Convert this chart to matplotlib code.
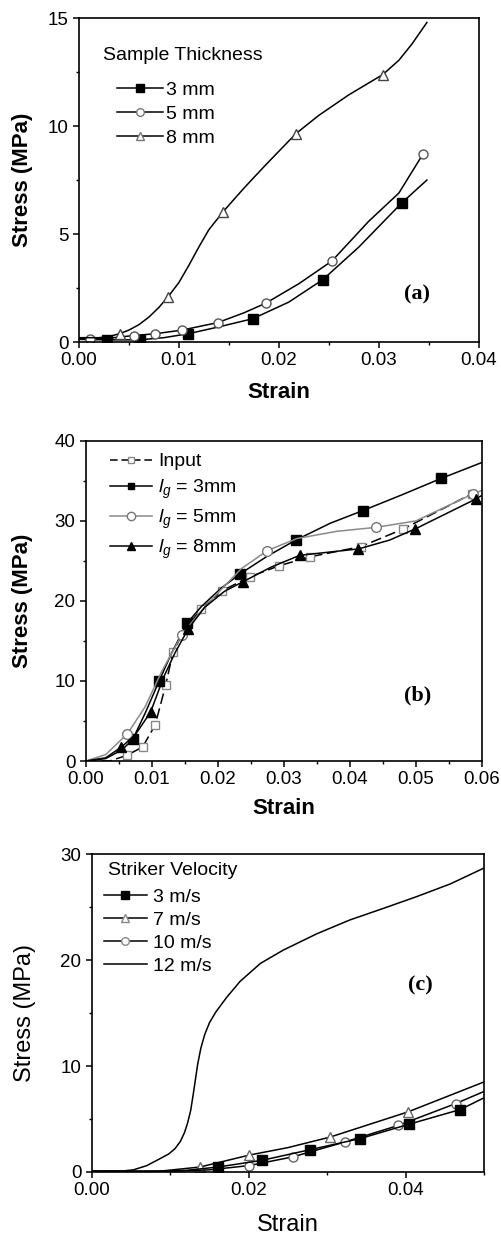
import matplotlib
matplotlib.use("Agg")
import matplotlib.pyplot as plt
from matplotlib.ticker import MultipleLocator
from matplotlib.lines import Line2D

plt.rcParams['font.family'] = ['Liberation Sans', 'DejaVu Sans']
plt.rcParams['mathtext.fontset'] = 'custom'
plt.rcParams['mathtext.rm'] = 'Liberation Sans'
plt.rcParams['mathtext.it'] = 'Liberation Sans:italic'

# ---- panel (a): sample thickness ----
a_x_3mm = [0, 0.0028, 0.0061, 0.0085, 0.0109, 0.014, 0.0174, 0.021, 0.0244, 0.028, 0.0323, 0.0348]
a_y_3mm = [0.12, 0.1, 0.1, 0.2, 0.38, 0.7, 1.08, 1.85, 2.89, 4.4, 6.45, 7.5]
a_mk_3mm = [1, 2, 4, 6, 8, 10]

a_x_5mm = [0, 0.0011, 0.0035, 0.0055, 0.0076, 0.0103, 0.0139, 0.0165, 0.0187, 0.022, 0.0253, 0.029, 0.032, 0.0344]
a_y_5mm = [0.15, 0.15, 0.2, 0.3, 0.38, 0.55, 0.9, 1.35, 1.8, 2.7, 3.75, 5.6, 6.9, 8.7]
a_mk_5mm = [1, 3, 4, 5, 6, 8, 10, 13]

a_x_8mm = [0, 0.002, 0.003, 0.0041, 0.005, 0.006, 0.007, 0.008, 0.0089, 0.01, 0.011, 0.012, 0.013,
           0.0144, 0.0155, 0.0165, 0.0175, 0.0188, 0.0202, 0.0217, 0.024, 0.027, 0.0304, 0.032,
           0.0333, 0.0348]
a_y_8mm = [0.2, 0.2, 0.25, 0.39, 0.55, 0.8, 1.15, 1.6, 2.08, 2.75, 3.55, 4.4, 5.2,
           6.02, 6.6, 7.12, 7.62, 8.26, 8.93, 9.65, 10.5, 11.45, 12.39, 13.05,
           13.8, 14.8]
a_mk_8mm = [3, 8, 13, 19, 22]
a_labels = ['3 mm', '5 mm', '8 mm']

# ---- panel (b): gauge length ----
b_x_in = [0, 0.0036, 0.0062, 0.0086, 0.0105, 0.0121, 0.0132, 0.015, 0.0175, 0.0207, 0.0248, 0.0293,
          0.0339, 0.0417, 0.0481, 0.0585, 0.06]
b_y_in = [0, 0, 0.7, 1.75, 4.5, 9.5, 13.6, 16.5, 19.0, 21.3, 23.0, 24.4, 25.5, 26.8, 29.0, 33.4, 33.8]
b_mk_in = [2, 3, 4, 5, 6, 8, 9, 10, 11, 12, 13, 14, 15]

b_x_3mm = [0, 0.003, 0.0055, 0.0071, 0.009, 0.0111, 0.013, 0.0153, 0.0175, 0.0205, 0.0234, 0.0275,
           0.0318, 0.037, 0.042, 0.048, 0.0538, 0.06]
b_y_3mm = [0, 0.3, 1.4, 2.7, 6.0, 10.0, 13.5, 17.2, 19.3, 21.6, 23.4, 25.6, 27.6, 29.7, 31.3, 33.3, 35.3, 37.3]
b_mk_3mm = [3, 5, 7, 10, 12, 14, 16]

b_x_5mm = [0, 0.003, 0.0063, 0.009, 0.0115, 0.0145, 0.017, 0.02, 0.0235, 0.0275, 0.032, 0.038,
           0.044, 0.05, 0.0587, 0.06]
b_y_5mm = [0, 0.8, 3.4, 6.8, 11.2, 15.7, 18.3, 21.0, 24.0, 26.3, 27.8, 28.7, 29.2, 30.0, 33.4, 33.8]
b_mk_5mm = [2, 5, 9, 12, 14]

b_x_8mm = [0, 0.003, 0.0054, 0.0075, 0.0098, 0.0118, 0.0135, 0.0155, 0.018, 0.021, 0.0238, 0.028,
           0.0324, 0.0413, 0.046, 0.0499, 0.0591, 0.06]
b_y_8mm = [0, 0.4, 1.75, 3.3, 6.1, 10.5, 13.5, 16.5, 19.2, 21.2, 22.4, 24.2, 25.7, 26.5, 27.6, 29.0,
           32.75, 33.2]
b_mk_8mm = [2, 4, 7, 10, 12, 13, 15, 16]
b_labels = ['Input', r'$\mathit{l}_g$ = 3mm', r'$\mathit{l}_g$ = 5mm', r'$\mathit{l}_g$ = 8mm']

# ---- panel (c): striker velocity ----
c_x_3 = [0, 0.008, 0.012, 0.0161, 0.0217, 0.0278, 0.0342, 0.0404, 0.047, 0.05]
c_y_3 = [0.05, 0.05, 0.15, 0.47, 1.1, 2.1, 3.15, 4.5, 5.9, 7.0]
c_mk_3 = [3, 4, 5, 6, 7, 8]

c_x_7 = [0, 0.009, 0.0138, 0.0201, 0.025, 0.0304, 0.0403, 0.05]
c_y_7 = [0.05, 0.1, 0.47, 1.6, 2.3, 3.3, 5.67, 8.5]
c_mk_7 = [2, 3, 5, 6]

c_x_10 = [0, 0.01, 0.015, 0.02, 0.0256, 0.0323, 0.0391, 0.0464, 0.05]
c_y_10 = [0.05, 0.05, 0.2, 0.6, 1.42, 2.84, 4.4, 6.46, 7.6]
c_mk_10 = [3, 4, 5, 6, 7]

c_x_12 = [0, 0.004, 0.0053, 0.007, 0.0087, 0.0098, 0.0106, 0.0113, 0.0118, 0.0122, 0.0126, 0.0129,
          0.0132, 0.0135, 0.0139, 0.0144, 0.015, 0.0158, 0.0172, 0.0189, 0.0215, 0.0244, 0.0287,
          0.0329, 0.0372, 0.0414, 0.0457, 0.05]
c_y_12 = [0.1, 0.1, 0.2, 0.6, 1.26, 1.7, 2.2, 2.9, 3.7, 4.6, 5.8, 7.2,
          8.7, 10.2, 11.7, 13.0, 14.1, 15.1, 16.5, 18.0, 19.7, 20.95, 22.5,
          23.8, 24.9, 26.0, 27.2, 28.7]
c_labels = ['3 m/s', '7 m/s', '10 m/s', '12 m/s']

fig = plt.figure(figsize=(5.02, 12.36), dpi=100)
ax1 = fig.add_axes([0.157, 0.7233, 0.797, 0.262])
ax2 = fig.add_axes([0.171, 0.3843, 0.789, 0.259])
ax3 = fig.add_axes([0.183, 0.0518, 0.781, 0.257])

lw = 1.1
ms = 6.5
fs_leg = 14

# (a)
ax1.plot(a_x_3mm, a_y_3mm, '-', color='black', lw=lw, marker='s', ms=ms, mfc='black',
         markevery=a_mk_3mm)
ax1.plot(a_x_5mm, a_y_5mm, '-', color='black', lw=lw, marker='o', ms=ms, mfc='white',
         mec='#555555', markevery=a_mk_5mm)
ax1.plot(a_x_8mm, a_y_8mm, '-', color='black', lw=lw, marker='^', ms=ms, mfc='white',
         mec='#444444', markevery=a_mk_8mm)
ax1.set_xlim(0, 0.04)
ax1.set_ylim(0, 15)
ax1.xaxis.set_major_locator(MultipleLocator(0.01))
ax1.xaxis.set_minor_locator(MultipleLocator(0.005))
ax1.yaxis.set_major_locator(MultipleLocator(5))
ax1.yaxis.set_minor_locator(MultipleLocator(2.5))
ax1.xaxis.set_major_formatter(plt.FormatStrFormatter('%.2f'))
ax1.set_xlabel('Strain', fontsize=16, fontweight='bold', va='center')
ax1.set_ylabel('Stress (MPa)', fontsize=16, fontweight='bold', va='center')
ax1.xaxis.set_label_coords(0.5, -0.157)
ax1.yaxis.set_label_coords(-0.14, 0.5)
ax1.text(0.06, 0.886, 'Sample Thickness', transform=ax1.transAxes, fontsize=fs_leg, va='center')
h_a = [Line2D([], [], color='black', lw=lw, marker='s', ms=5.5, mfc='black'),
       Line2D([], [], color='black', lw=lw, marker='o', ms=5.5, mfc='white', mec='#777777'),
       Line2D([], [], color='black', lw=lw, marker='^', ms=5.5, mfc='white', mec='#777777')]
ax1.legend(h_a, a_labels, loc='upper left', bbox_to_anchor=(0.095, 0.805), frameon=False,
           fontsize=fs_leg, handlelength=2.37, handletextpad=0.15, labelspacing=0.32, borderpad=0,
           borderaxespad=0)
ax1.text(0.845, 0.148, '(a)', transform=ax1.transAxes, fontsize=16, fontweight='bold',
         family='Liberation Serif', ha='center', va='center')

# (b)
ax2.plot(b_x_in, b_y_in, color='black', lw=lw, dashes=(7, 3), marker='s', ms=5.5, mfc='white',
         mec='#888888', markevery=b_mk_in)
ax2.plot(b_x_3mm, b_y_3mm, '-', color='black', lw=lw, marker='s', ms=ms, mfc='black',
         markevery=b_mk_3mm)
ax2.plot(b_x_5mm, b_y_5mm, '-', color='#8a8a8a', lw=lw, marker='o', ms=ms + 0.5, mfc='white',
         mec='#777777', markevery=b_mk_5mm)
ax2.plot(b_x_8mm, b_y_8mm, '-', color='black', lw=lw, marker='^', ms=ms + 0.5, mfc='black',
         markevery=b_mk_8mm)
ax2.set_xlim(0, 0.06)
ax2.set_ylim(0, 40)
ax2.xaxis.set_major_locator(MultipleLocator(0.01))
ax2.xaxis.set_minor_locator(MultipleLocator(0.005))
ax2.yaxis.set_major_locator(MultipleLocator(10))
ax2.yaxis.set_minor_locator(MultipleLocator(5))
ax2.xaxis.set_major_formatter(plt.FormatStrFormatter('%.2f'))
ax2.set_xlabel('Strain', fontsize=16, fontweight='bold', va='center')
ax2.set_ylabel('Stress (MPa)', fontsize=16, fontweight='bold', va='center')
ax2.xaxis.set_label_coords(0.5, -0.147)
ax2.yaxis.set_label_coords(-0.159, 0.5)
h_b = [Line2D([], [], color='black', lw=lw, dashes=(5, 2.5), marker='s', ms=4.5, mfc='white', mec='#888888'),
       Line2D([], [], color='black', lw=lw, marker='s', ms=5, mfc='black'),
       Line2D([], [], color='#8a8a8a', lw=lw, marker='o', ms=6, mfc='white', mec='#777777'),
       Line2D([], [], color='black', lw=lw, marker='^', ms=6, mfc='black')]
ax2.legend(h_b, b_labels, loc='upper left', bbox_to_anchor=(0.06, 0.9625), frameon=False,
           fontsize=fs_leg, handlelength=2.2, handletextpad=0.3, labelspacing=0.35, borderpad=0,
           borderaxespad=0)
ax2.text(0.838, 0.206, '(b)', transform=ax2.transAxes, fontsize=16, fontweight='bold',
         family='Liberation Serif', ha='center', va='center')

# (c)
ax3.plot(c_x_12, c_y_12, '-', color='black', lw=lw)
ax3.plot(c_x_7, c_y_7, '-', color='black', lw=lw, marker='^', ms=ms, mfc='white', mec='#666666',
         markevery=c_mk_7)
ax3.plot(c_x_10, c_y_10, '-', color='black', lw=lw, marker='o', ms=ms, mfc='white', mec='#666666',
         markevery=c_mk_10)
ax3.plot(c_x_3, c_y_3, '-', color='black', lw=lw, marker='s', ms=ms, mfc='black',
         markevery=c_mk_3)
ax3.set_xlim(0, 0.05)
ax3.set_ylim(0, 30)
ax3.xaxis.set_major_locator(MultipleLocator(0.02))
ax3.xaxis.set_minor_locator(MultipleLocator(0.01))
ax3.yaxis.set_major_locator(MultipleLocator(10))
ax3.yaxis.set_minor_locator(MultipleLocator(5))
ax3.xaxis.set_major_formatter(plt.FormatStrFormatter('%.2f'))
ax3.set_xlabel('Strain', fontsize=17, va='center')
ax3.set_ylabel('Stress (MPa)', fontsize=17, va='center')
ax3.xaxis.set_label_coords(0.5, -0.167)
ax3.yaxis.set_label_coords(-0.171, 0.5)
ax3.text(0.04, 0.95, 'Striker Velocity', transform=ax3.transAxes, fontsize=fs_leg, va='center')
h_c = [Line2D([], [], color='black', lw=lw, marker='s', ms=5.5, mfc='black'),
       Line2D([], [], color='black', lw=lw, marker='^', ms=5.5, mfc='white', mec='#888888'),
       Line2D([], [], color='black', lw=lw, marker='o', ms=5.5, mfc='white', mec='#888888'),
       Line2D([], [], color='black', lw=lw)]
ax3.legend(h_c, c_labels, loc='upper left', bbox_to_anchor=(0.031, 0.893), frameon=False,
           fontsize=fs_leg, handlelength=2.2, handletextpad=0.3, labelspacing=0.28, borderpad=0,
           borderaxespad=0)
ax3.text(0.837, 0.588, '(c)', transform=ax3.transAxes, fontsize=16, fontweight='bold',
         family='Liberation Serif', ha='center', va='center')

for ax in (ax1, ax2, ax3):
    for s in ax.spines.values():
        s.set_linewidth(1.2)
    ax.tick_params(which='major', direction='out', length=4, width=1.1, labelsize=13.5,
                   top=False, right=False)
    ax.tick_params(which='minor', direction='out', length=2.5, width=1.0, top=False, right=False)

fig.savefig('out.png', dpi=100)
